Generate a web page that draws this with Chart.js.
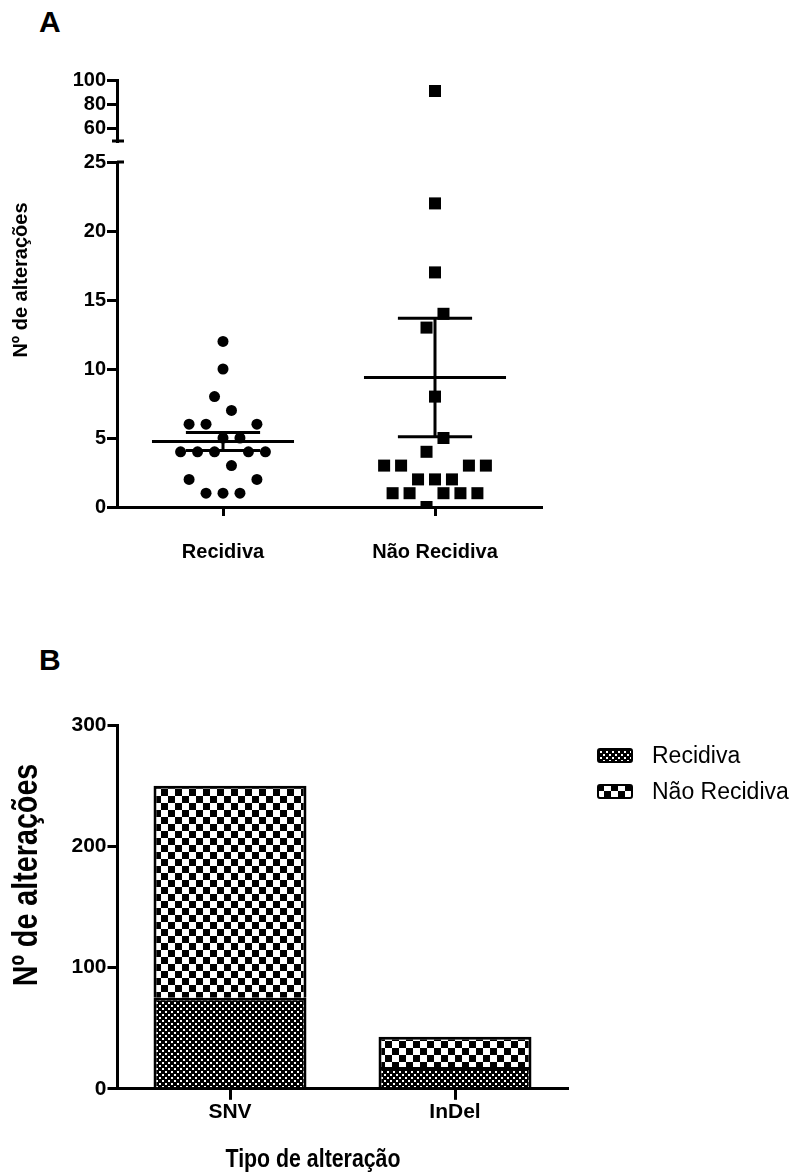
<!DOCTYPE html>
<html lang="pt">
<head>
<meta charset="UTF-8">
<title>Nº de alterações</title>
<script src="https://cdn.jsdelivr.net/npm/chart.js"></script>
<style>
  body { margin: 0; background: #fff; width: 796px; height: 1176px; position: relative; overflow: hidden; font-family: "Liberation Sans", Arial, sans-serif; }
  .panel { position: absolute; left: 39px; font-weight: bold; font-size: 30px; line-height: 30px; }
  #chartA { position: absolute; left: 0; top: 0; }
  #chartB { position: absolute; left: 0; top: 600px; }
  #legendB { position: absolute; left: 597px; top: 742px; font-size: 23px; color: #000; }
  #legendB .item { display: flex; align-items: center; height: 27px; margin-bottom: 9px; white-space: nowrap; }
  #legendB canvas { margin-right: 19px; }
</style>
</head>
<body>
<div class="panel" style="top:7px">A</div>
<div class="panel" style="top:645px">B</div>
<canvas id="chartA" width="796" height="600"></canvas>
<canvas id="chartB" width="796" height="576"></canvas>
<div id="legendB"></div>
<script>
// ---- panel A: number of alterations per patient ----
const groups = ['Recidiva', 'Não Recidiva'];
const recidiva = [12, 10, 8, 7, 6, 6, 6, 5, 5, 4, 4, 4, 4, 4, 3, 2, 2, 1, 1, 1];
const recidivaJitter = [0, 0, -1, 1, -4, -2, 4, 0, 2, -5, -3, -1, 3, 5, 1, -4, 4, -2, 0, 2];
const naoRecidiva = [91, 22, 17, 14, 13, 8, 5, 4, 3, 3, 3, 3, 2, 2, 2, 1, 1, 1, 1, 1, 0];
const naoRecidivaJitter = [0, 0, 0, 1, -1, 0, 1, -1, -6, -4, 4, 6, -2, 0, 2, -5, -3, 1, 3, 5, -1];
const lowerTicks = [0, 5, 10, 15, 20, 25];
const upperTicks = [60, 80, 100];

// ---- panel B: alteration type ----
const tipos = ['SNV', 'InDel'];
const barRecidiva = [75, 18];
const barNaoRecidiva = [175, 25];
const barTicks = [0, 100, 200, 300];

const LOWER_MAX = 25, UPPER_MIN = 50, UPPER_MAX = 100;
const STEP = 0.04;           // horizontal dot spacing, category units
const FONT = '"Liberation Sans", Arial, sans-serif';

function stats(v) {
    const n = v.length;
    const mean = v.reduce((a, b) => a + b, 0) / n;
    const sd = Math.sqrt(v.reduce((a, b) => a + (b - mean) ** 2, 0) / (n - 1));
    return { mean, sem: sd / Math.sqrt(n) };
}

function line(pts) {
    return { data: pts, showLine: true, borderColor: '#000', borderWidth: 3, pointRadius: 0, yAxisID: 'y' };
}

function dots(values, jitter, pos, upper, style, radius) {
    const pts = values.map((v, i) => ({ x: pos + jitter[i] * STEP, y: v }))
        .filter(p => upper ? p.y > LOWER_MAX : p.y <= LOWER_MAX);
    return { data: pts, pointStyle: style, pointRadius: radius, backgroundColor: '#000', borderColor: '#000', borderWidth: 0, yAxisID: upper ? 'y2' : 'y' };
}

const setsA = [];
[recidiva, naoRecidiva].forEach((vals, g) => {
    const pos = g + 1;
    const { mean, sem } = stats(vals);
    setsA.push(line([{ x: pos - 0.335, y: mean }, { x: pos + 0.335, y: mean }]));
    setsA.push(line([{ x: pos - 0.175, y: mean + sem }, { x: pos + 0.175, y: mean + sem }]));
    setsA.push(line([{ x: pos - 0.175, y: mean - sem }, { x: pos + 0.175, y: mean - sem }]));
    setsA.push(line([{ x: pos, y: mean - sem }, { x: pos, y: mean + sem }]));
});
setsA.push(dots(recidiva, recidivaJitter, 1, false, 'circle', 5.5));
setsA.push(dots(naoRecidiva, naoRecidivaJitter, 2, false, 'rect', 8.5));
setsA.push(dots(naoRecidiva, naoRecidivaJitter, 2, true, 'rect', 8.5));

// axis titles drawn on the canvas (sx < 1 squeezes the text like a narrow face)
function textPlugin(id, items) {
    return {
        id: id,
        afterDraw(chart) {
            const ctx = chart.ctx;
            items.forEach(t => {
                ctx.save();
                ctx.translate(t.x, t.y);
                ctx.rotate(t.rot || 0);
                ctx.scale(t.sx || 1, 1);
                ctx.font = t.font;
                ctx.fillStyle = '#000';
                ctx.textAlign = 'center';
                ctx.textBaseline = 'middle';
                ctx.fillText(t.text, 0, 0);
                ctx.restore();
            });
        }
    };
}

// little caps where the y axis is broken
const axisBreak = {
    id: 'axisBreak',
    afterDraw(chart) {
        const ctx = chart.ctx;
        const x = chart.scales.y.right;
        ctx.save();
        ctx.strokeStyle = '#000';
        ctx.lineWidth = 3;
        ctx.beginPath();
        const yb = chart.scales.y2.getPixelForValue(UPPER_MIN);
        ctx.moveTo(x - 5, yb); ctx.lineTo(x + 7, yb);
        const yt = chart.scales.y.getPixelForValue(LOWER_MAX);
        ctx.moveTo(x, yt); ctx.lineTo(x + 7, yt);
        ctx.stroke();
        ctx.restore();
    }
};

function axisStyle(extra) {
    return Object.assign({
        grid: { drawOnChartArea: false, tickLength: 10, lineWidth: 3, color: '#000' },
        border: { color: '#000', width: 3 }
    }, extra);
}

const boldA = { family: FONT, size: 20, weight: 'bold' };

new Chart(document.getElementById('chartA'), {
    type: 'scatter',
    data: { datasets: setsA },
    options: {
        responsive: false,
        animation: false,
        layout: { padding: { left: 57, right: 255, top: 80, bottom: 12 } },
        plugins: { legend: { display: false }, tooltip: { enabled: false } },
        scales: {
            x: axisStyle({
                type: 'linear', min: 0.5, max: 2.5,
                afterBuildTicks: s => { s.ticks = groups.map((g, i) => ({ value: i + 1 })); },
                grid: { drawOnChartArea: false, tickLength: 9, lineWidth: 3, color: '#000' },
                ticks: { color: '#000', padding: 24, font: boldA, autoSkip: false, maxRotation: 0,
                    callback: v => groups[Math.round(v) - 1] }
            }),
            y: axisStyle({
                type: 'linear', position: 'left', stack: 'a', stackWeight: 345,
                min: 0, max: LOWER_MAX,
                afterBuildTicks: s => { s.ticks = lowerTicks.map(v => ({ value: v })); },
                afterFit: s => { s.width = 60; },
                ticks: { color: '#000', padding: 1, font: boldA, autoSkip: false }
            }),
            gap: { type: 'linear', position: 'left', stack: 'a', stackWeight: 21, display: false },
            y2: axisStyle({
                type: 'linear', position: 'left', stack: 'a', stackWeight: 61,
                min: UPPER_MIN, max: UPPER_MAX,
                afterBuildTicks: s => { s.ticks = upperTicks.map(v => ({ value: v })); },
                afterFit: s => { s.width = 60; },
                ticks: { color: '#000', padding: 1, font: boldA, autoSkip: false }
            })
        }
    },
    plugins: [axisBreak, textPlugin('titlesA', [
        { text: 'Nº de alterações', x: 21, y: 280, rot: -Math.PI / 2, font: 'bold 20px ' + FONT }
    ])]
});

// ---- fill patterns for the bars ----
function tile(size, draw) {
    const c = document.createElement('canvas');
    c.width = c.height = size;
    draw(c.getContext('2d'));
    return c;
}
const fineTile = tile(6, g => {
    g.fillStyle = '#000'; g.fillRect(0, 0, 6, 6);
    g.fillStyle = '#fff'; g.fillRect(0, 0, 2, 2); g.fillRect(3, 3, 2, 2);
});
const coarseTile = tile(14, g => {
    g.fillStyle = '#fff'; g.fillRect(0, 0, 14, 14);
    g.fillStyle = '#000'; g.fillRect(0, 0, 7, 7); g.fillRect(7, 7, 7, 7);
});
const ctxB = document.getElementById('chartB').getContext('2d');

const boldB = { family: FONT, size: 21, weight: 'bold' };

const chartB = new Chart(ctxB, {
    type: 'bar',
    data: {
        labels: tipos,
        datasets: [
            { label: 'Recidiva', data: barRecidiva, backgroundColor: ctxB.createPattern(fineTile, 'repeat'), borderColor: '#000', borderWidth: 3, tile: fineTile },
            { label: 'Não Recidiva', data: barNaoRecidiva, backgroundColor: ctxB.createPattern(coarseTile, 'repeat'), borderColor: '#000', borderWidth: 3, tile: coarseTile }
        ]
    },
    options: {
        responsive: false,
        animation: false,
        datasets: { bar: { categoryPercentage: 1, barPercentage: 0.68 } },
        layout: { padding: { left: 57.5, right: 228.5, top: 125, bottom: 51 } },
        plugins: { legend: { display: false }, tooltip: { enabled: false } },
        scales: {
            x: axisStyle({
                stacked: true,
                grid: { drawOnChartArea: false, offset: false, tickLength: 11, lineWidth: 3, color: '#000' },
                ticks: { color: '#000', padding: 0, font: boldB }
            }),
            y: axisStyle({
                stacked: true, min: 0, max: 300,
                afterBuildTicks: s => { s.ticks = barTicks.map(v => ({ value: v })); },
                afterFit: s => { s.width = 60; },
                ticks: { color: '#000', padding: 1, font: boldB, autoSkip: false }
            })
        }
    },
    plugins: [textPlugin('titlesB', [
        { text: 'Nº de alterações', x: 27, y: 275, rot: -Math.PI / 2, sx: 0.82, font: 'bold 35px ' + FONT },
        { text: 'Tipo de alteração', x: 313, y: 560, sx: 0.82, font: 'bold 26px ' + FONT }
    ])]
});

// legend for panel B, built from the chart's datasets
const legendB = document.getElementById('legendB');
chartB.data.datasets.forEach(ds => {
    const item = document.createElement('div');
    item.className = 'item';
    const sw = document.createElement('canvas');
    sw.width = 36; sw.height = 15;
    const g = sw.getContext('2d');
    g.fillStyle = g.createPattern(ds.tile, 'repeat');
    g.beginPath(); g.roundRect(1, 1, 34, 13, 2); g.fill();
    g.lineWidth = 2; g.strokeStyle = '#000'; g.stroke();
    const label = document.createElement('span');
    label.textContent = ds.label;
    item.appendChild(sw);
    item.appendChild(label);
    legendB.appendChild(item);
});
</script>
</body>
</html>
